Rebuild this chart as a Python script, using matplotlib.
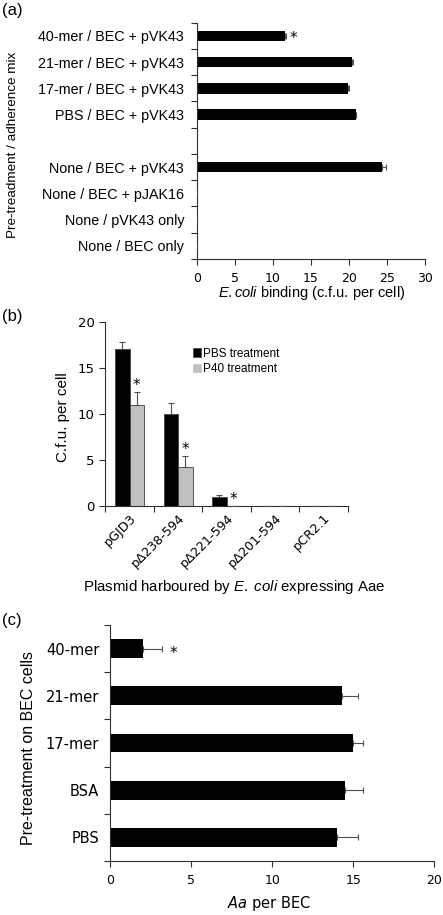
#!/usr/bin/env python

# Three-panel adherence figure: (a) E. coli binding, (b) plasmid deletions, (c) Aa per BEC

import numpy as np
import matplotlib
matplotlib.use('Agg')
import matplotlib.pyplot as plt
from matplotlib.patches import Patch

# panel (a)
a_treated_labels = ['40-mer / BEC + pVK43', '21-mer / BEC + pVK43', '17-mer / BEC + pVK43', 'PBS / BEC + pVK43']
a_treated_values = [11.6, 20.4, 19.9, 20.9]
a_treated_errors = [0.2, 0.2, 0.1, 0.05]
a_control_labels = ['None / BEC + pVK43', 'None / BEC + pJAK16', 'None / pVK43 only', 'None / BEC only']
a_control_values = [24.4, 0.0, 0.0, 0.0]
a_control_errors = [0.5, 0.0, 0.0, 0.0]
a_xticks = [0, 5, 10, 15, 20, 25, 30]

# panel (b)
b_plasmids = ['pGJD3', 'p\u0394238-594', 'p\u0394221-594', 'p\u0394201-594', 'pCR2.1']
b_pbs = [17.0, 10.0, 0.95, 0.0, 0.0]
b_pbs_err = [0.8, 1.2, 0.2, 0.0, 0.0]
b_p40 = [11.0, 4.25, 0.0, 0.0, 0.0]
b_p40_err = [1.4, 1.1, 0.0, 0.0, 0.0]
b_yticks = [0, 5, 10, 15, 20]

# panel (c)
c_labels = ['40-mer', '21-mer', '17-mer', 'BSA', 'PBS']
c_values = [2.0, 14.3, 15.0, 14.5, 14.0]
c_errors = [1.2, 1.0, 0.6, 1.1, 1.3]
c_xticks = [0, 5, 10, 15, 20]

ARIAL = 'Liberation Sans'
VERD = 'DejaVu Sans'
SPINE = '#303030'
ERR = '#505050'

plt.rcParams['mathtext.fontset'] = 'custom'
plt.rcParams['mathtext.it'] = 'Liberation Sans:italic'
plt.rcParams['mathtext.rm'] = 'Liberation Sans'
plt.rcParams['mathtext.sf'] = 'DejaVu Sans:italic'

W, H = 443, 915
fig = plt.figure(figsize=(W / 100, H / 100), dpi=100)


def px_axes(left, top, right, bottom):
    return fig.add_axes([left / W, 1 - bottom / H, (right - left) / W, (bottom - top) / H])


def style(ax):
    for s in ['top', 'right']:
        ax.spines[s].set_visible(False)
    for s in ['left', 'bottom']:
        ax.spines[s].set_color(SPINE)
        ax.spines[s].set_linewidth(0.8)
    ax.tick_params(colors=SPINE, width=0.8, length=4, direction='out')


def hbar_panel(ax, labels, values, errors, pos, nslots, height, pad):
    ax.barh(pos, values, height=height, color='black', zorder=2)
    ax.errorbar(values, pos, xerr=[np.zeros(len(values)), errors], fmt='none',
                ecolor=ERR, elinewidth=0.8, capsize=2, capthick=0.8, zorder=3)
    ax.set_ylim(nslots - 0.5, -0.5)
    ax.set_yticks(np.arange(nslots + 1) - 0.5)
    ax.set_yticklabels([])
    ax.set_yticks(pos, minor=True)
    ax.set_yticklabels(labels, minor=True)
    ax.tick_params(axis='y', which='minor', length=0, pad=pad, colors='black')


# ---- (a)
ax = px_axes(196.7, 22.7, 425, 259)
style(ax)
a_labels = a_treated_labels + a_control_labels
a_values = a_treated_values + a_control_values
a_errors = a_treated_errors + a_control_errors
a_pos = list(range(len(a_treated_labels))) + list(range(len(a_treated_labels) + 1, len(a_labels) + 1))
hbar_panel(ax, a_labels, a_values, a_errors, a_pos, len(a_labels) + 1, 0.4, 9)
for t in ax.get_yticklabels(minor=True):
    t.set_fontfamily(ARIAL)
    t.set_fontsize(10.3)
ax.set_xlim(0, 30)
ax.set_xticks(a_xticks)
ax.set_xticklabels([str(v) for v in a_xticks], fontfamily=VERD, fontsize=9, color='black')
ax.tick_params(axis='x', pad=5)
ax.set_xlabel(r'$\mathit{E.coli}$ binding (c.f.u. per cell)', fontfamily=ARIAL, fontsize=10.5, va='center')
ax.xaxis.set_label_coords(0.505, -0.145)
ax.set_ylabel('Pre-treadment / adherence mix', fontfamily=ARIAL, fontsize=9.7, va='center')
ax.yaxis.set_label_coords(-0.805, 0.482)
ax.text(12.7, a_pos[0] + 0.12, '*', ha='center', va='center', fontsize=11, fontfamily=VERD)
fig.text(2 / W, 1 - 10 / H, '(a)', ha='left', va='center', fontfamily=ARIAL, fontsize=12)

# ---- (b)
ax = px_axes(105.3, 321.7, 348, 505.7)
style(ax)
x = np.arange(len(b_plasmids))
w = 0.3
ax.bar(x - w / 2, b_pbs, width=w, color='black', edgecolor='#404040', linewidth=0.6, zorder=2)
ax.bar(x + w / 2, b_p40, width=w, color='#c0c0c0', edgecolor='#404040', linewidth=0.6, zorder=2)
ax.errorbar(x - w / 2, b_pbs, yerr=[np.zeros(len(x)), b_pbs_err], fmt='none',
            ecolor=ERR, elinewidth=0.8, capsize=2, capthick=0.8, zorder=3)
ax.errorbar(x + w / 2, b_p40, yerr=[np.zeros(len(x)), b_p40_err], fmt='none',
            ecolor=ERR, elinewidth=0.8, capsize=2, capthick=0.8, zorder=3)
ax.set_xlim(-0.5, len(b_plasmids) - 0.5)
ax.set_xticks(np.arange(len(b_plasmids) + 1) - 0.5)
ax.set_xticklabels([])
ax.set_xticks(x, minor=True)
ax.set_xticklabels(b_plasmids, minor=True, rotation=45, ha='right', rotation_mode='anchor',
                   fontfamily=VERD, fontsize=9.2, color='black')
ax.tick_params(axis='x', which='minor', length=0, pad=4)
ax.set_ylim(0, 20)
ax.set_yticks(b_yticks)
ax.set_yticklabels([str(v) for v in b_yticks], fontfamily=VERD, fontsize=9.5, color='black')
ax.set_ylabel('C.f.u. per cell', fontfamily=ARIAL, fontsize=11, va='center')
ax.yaxis.set_label_coords(-0.174, 0.484)
ax.set_xlabel(r'Plasmid harboured by $\mathit{E.}$ $\mathit{coli}$ expressing Aae', fontfamily=ARIAL,
              fontsize=10.8, va='center')
ax.xaxis.set_label_coords(0.53, -0.44)
for xi, yi in [(0.14, 13.1), (1.14, 6.1), (2.14, 0.7)]:
    ax.text(xi, yi, '*', ha='center', va='center', fontsize=11, fontfamily=VERD)
ax.legend(handles=[Patch(facecolor='black', edgecolor='#404040', linewidth=0.5, label='PBS treatment'),
                   Patch(facecolor='#c0c0c0', edgecolor='#c0c0c0', linewidth=0.5, label='P40 treatment')],
          loc='upper left', bbox_to_anchor=(0.34, 0.885), frameon=False,
          handlelength=0.7, handleheight=0.7, handletextpad=0.2, labelspacing=0.3,
          prop={'family': ARIAL, 'size': 8.5}, borderaxespad=0)
fig.text(2 / W, 1 - 317 / H, '(b)', ha='left', va='center', fontfamily=ARIAL, fontsize=12)

# ---- (c)
ax = px_axes(110.3, 625, 434.3, 861)
style(ax)
c_pos = list(range(len(c_labels)))
hbar_panel(ax, c_labels, c_values, c_errors, c_pos, len(c_labels), 0.4, 8)
for t in ax.get_yticklabels(minor=True):
    t.set_fontfamily(VERD)
    t.set_fontsize(10.5)
ax.set_xlim(0, 20)
ax.set_xticks(c_xticks)
ax.set_xticklabels([str(v) for v in c_xticks], fontfamily=VERD, fontsize=9, color='black')
ax.tick_params(axis='x', pad=5)
ax.set_xlabel(r'$\mathsf{Aa}$ per BEC', fontfamily=VERD, fontsize=10.5, va='center')
ax.xaxis.set_label_coords(0.49, -0.182)
ax.set_ylabel('Pre-treatment on BEC cells', fontfamily=ARIAL, fontsize=11.5, va='center')
ax.yaxis.set_label_coords(-0.254, 0.479)
ax.text(3.9, c_pos[0] + 0.1, '*', ha='center', va='center', fontsize=11, fontfamily=VERD)
fig.text(2 / W, 1 - 621 / H, '(c)', ha='left', va='center', fontfamily=ARIAL, fontsize=12)

fig.savefig('out.png', dpi=100)
